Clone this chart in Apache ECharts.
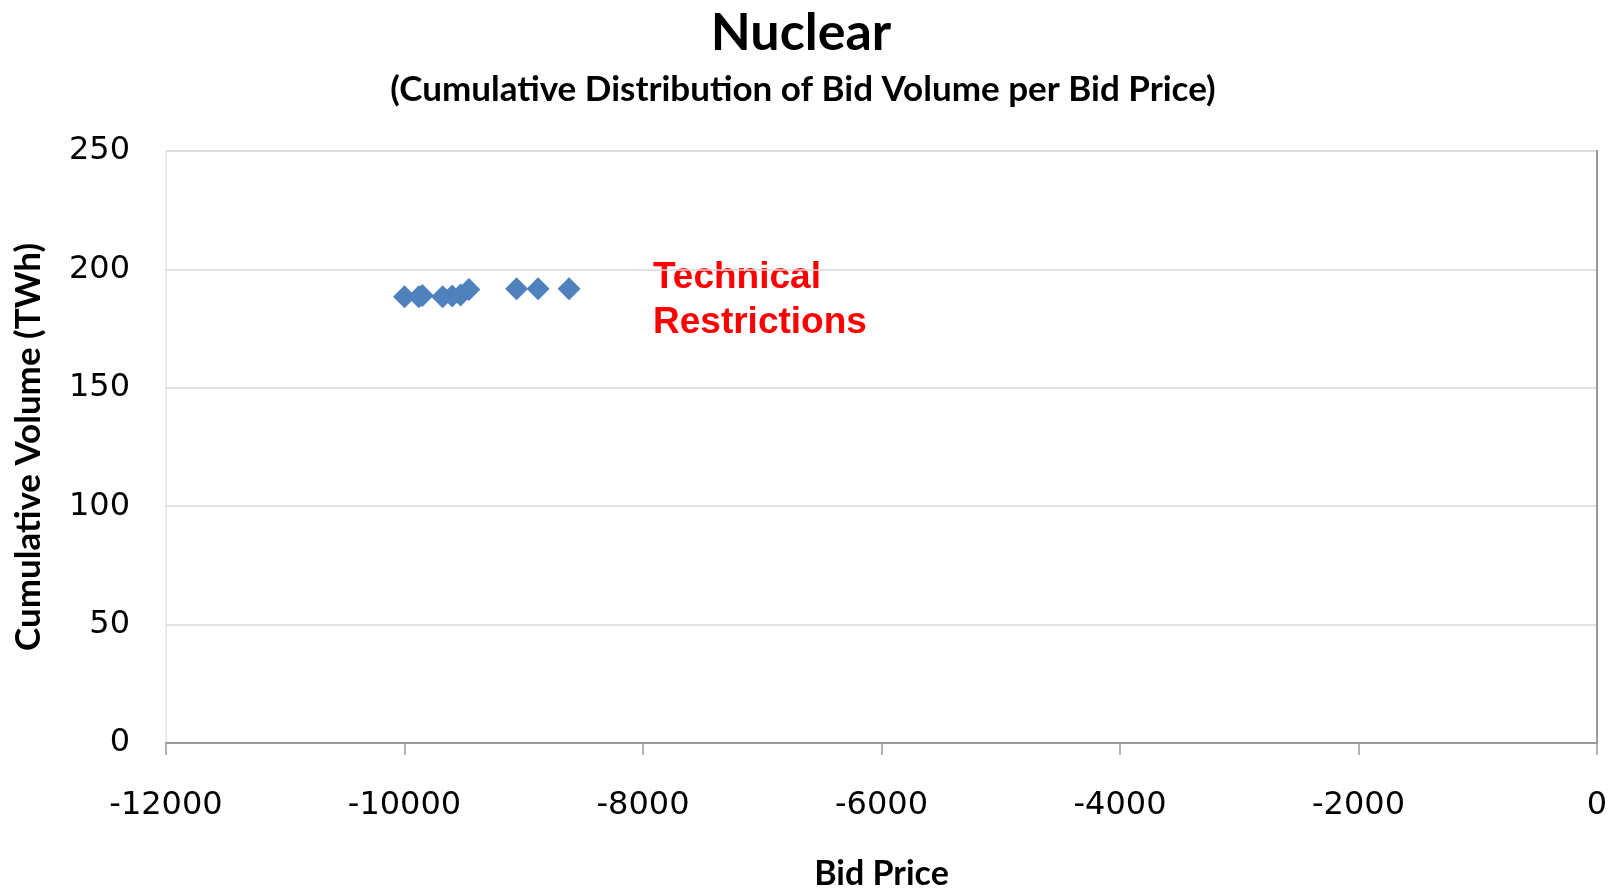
<!DOCTYPE html>
<html>
<head>
<meta charset="utf-8">
<title>Nuclear</title>
<script src="https://cdn.jsdelivr.net/npm/echarts@6/dist/echarts.min.js"></script>
<style>
  html, body { margin: 0; padding: 0; background: #ffffff; }
  #chart { width: 1619px; height: 891px; }
</style>
</head>
<body>
<div id="chart"></div>
<script>
// Bid price (x) and cumulative volume in TWh (y) for each nuclear bid
const bidPrice = [-10000, -9880, -9850, -9680, -9600, -9530, -9460, -9060, -8880, -8620];
const cumVolume = [188.5, 188.5, 189, 188.5, 188.8, 189.2, 191.5, 191.8, 191.8, 191.8];

const xTicks = { min: -12000, max: 0, step: 2000 };
const yTicks = { min: 0, max: 250, step: 50 };

const titleText = 'Nuclear';
const subtitleText = '(Cumulative Distribution of Bid Volume per Bid Price)';
const xName = 'Bid Price';
const yName = 'Cumulative Volume (TWh)';
const noteText = 'Technical\nRestrictions';

const points = bidPrice.map((x, i) => [x, cumVolume[i]]);

const chart = echarts.init(document.getElementById('chart'), null, { renderer: 'canvas' });

const headFont = 'Lato, "Open Sans", sans-serif';
const tickFont = '"DejaVu Sans", Verdana, sans-serif';

// plain integers, no thousands separators
const plainNumber = v => String(Math.round(v));

chart.setOption({
  animation: false,
  backgroundColor: '#ffffff',
  title: [
    {
      text: titleText,
      left: 796, top: 2, textAlign: 'center',
      textStyle: { fontFamily: headFont, fontWeight: 'bold', fontSize: 52, color: '#000000' }
    },
    {
      text: subtitleText,
      left: 798, top: 67, textAlign: 'center',
      textStyle: { fontFamily: headFont, fontWeight: 'bold', fontSize: 35, color: '#000000' }
    }
  ],
  grid: {
    left: 166, right: 22, top: 151, bottom: 148,
    outerBoundsMode: 'none',
    containLabel: false,
    show: true, borderColor: '#d9d9d9', borderWidth: 1, backgroundColor: 'transparent'
  },
  xAxis: {
    type: 'value',
    min: xTicks.min, max: xTicks.max, interval: xTicks.step,
    name: xName, nameLocation: 'middle', nameGap: 114,
    nameTextStyle: { fontFamily: headFont, fontWeight: 'bold', fontSize: 34, color: '#000000' },
    axisLine: { show: true, onZero: false, lineStyle: { color: '#9a9a9a', width: 2 } },
    axisTick: { show: true, inside: false, length: 12, lineStyle: { color: '#9a9a9a', width: 1.5 } },
    axisLabel: { margin: 47, fontFamily: tickFont, fontSize: 32, color: '#000000', formatter: plainNumber },
    splitLine: { show: false }
  },
  yAxis: [
    {
      type: 'value',
      position: 'left',
      min: yTicks.min, max: yTicks.max, interval: yTicks.step,
      name: yName, nameLocation: 'middle', nameGap: 120, nameRotate: 90,
      nameTextStyle: { fontFamily: headFont, fontWeight: 'bold', fontSize: 35, color: '#000000' },
      axisLine: { show: false, onZero: false },
      axisTick: { show: false },
      axisLabel: {
        margin: 36, padding: [6, 0, 0, 0], backgroundColor: 'rgba(255,255,255,0)',
        fontFamily: tickFont, fontSize: 32, color: '#000000', formatter: plainNumber
      },
      splitLine: { show: true, lineStyle: { color: '#d9d9d9', width: 1.5 } }
    },
    {
      // vertical axis crossing at a bid price of 0 (right edge)
      type: 'value',
      position: 'right',
      min: yTicks.min, max: yTicks.max, interval: yTicks.step,
      axisLine: { show: true, onZero: false, lineStyle: { color: '#9a9a9a', width: 2 } },
      axisTick: { show: false },
      axisLabel: { show: false },
      splitLine: { show: false }
    }
  ],
  series: [
    {
      name: 'Nuclear',
      type: 'scatter',
      yAxisIndex: 0,
      symbol: 'diamond',
      symbolSize: 23,
      itemStyle: { color: '#4f81bd', opacity: 1 },
      data: points
    }
  ],
  graphic: [
    {
      type: 'text',
      left: 653, top: 255,
      style: {
        text: noteText,
        fill: '#ff0000',
        font: 'bold 37px "Liberation Sans", Arial, sans-serif',
        lineHeight: 45
      }
    }
  ]
});
</script>
</body>
</html>
